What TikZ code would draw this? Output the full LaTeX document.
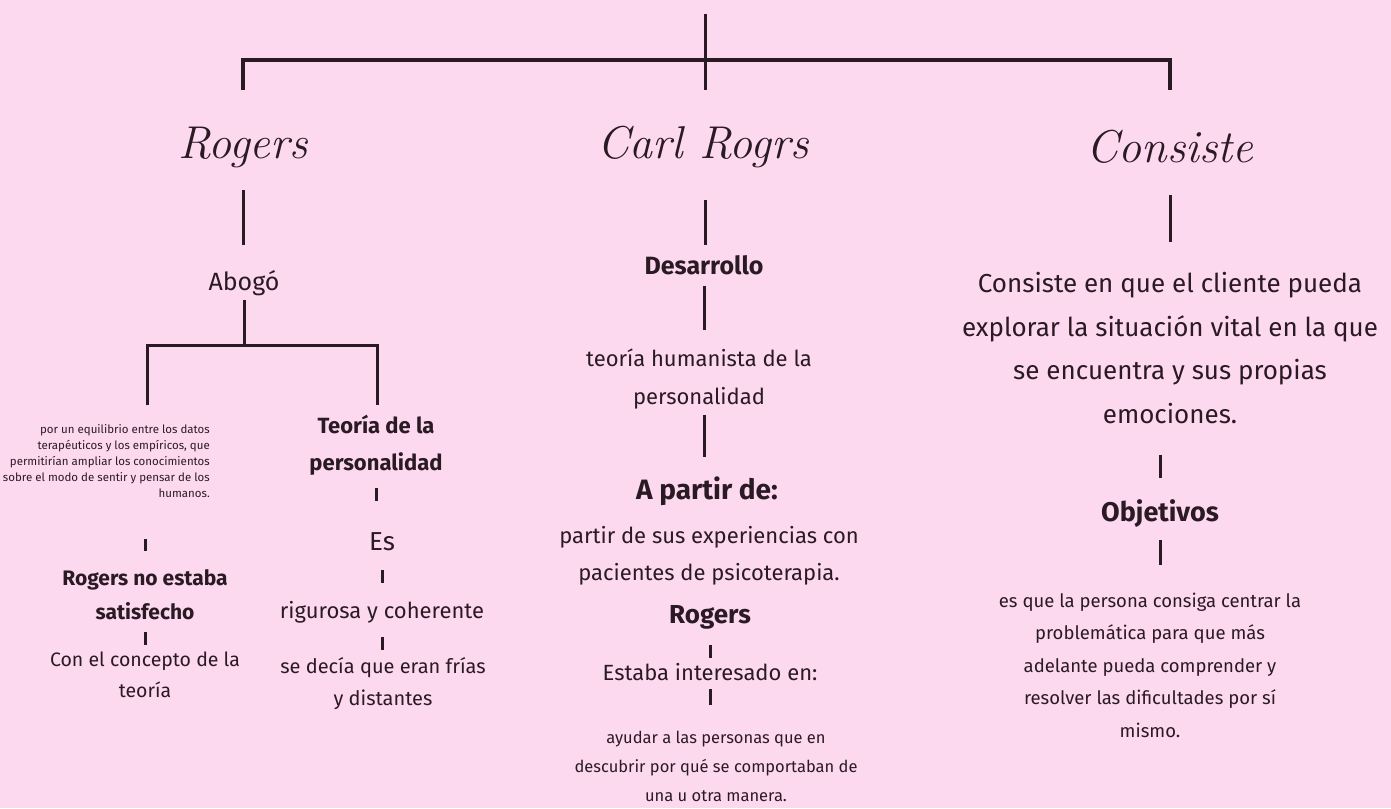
\documentclass[tikz,border=0pt]{standalone}
\usepackage{fontspec}
\setmainfont{Fira Sans}
\newfontfamily\headfont{Latin Modern Roman}
\definecolor{bgpink}{HTML}{FDD9F0}
\definecolor{ink}{HTML}{2A1A24}
\newcommand{\fsz}[2]{\fontsize{#1}{#2}\selectfont}
\tikzset{
  x=1pt, y=-1pt,
  lbl/.style={text=ink, inner sep=0pt, align=center},
  head/.style={lbl, font=\headfont\itshape\fsz{46}{50}},
  conn/.style={draw=ink, line width=3pt},
  tick/.style={draw=ink, line width=3pt},
}
\begin{document}
\begin{tikzpicture}
\fill[bgpink] (0,0) rectangle (1391,808);
\useasboundingbox (0,0) rectangle (1391,808);

% headings
\node[head] (h1) at (243,147) {Rogers};
\node[head] (h2) at (703,147) {Carl Rogrs};
\node[head] (h3) at (1170,147) {Consiste};
\coordinate (top) at (705,14);

% top bracket
\draw[conn, line width=3.5pt] (h1 |- 0,90) -- (h1 |- 0,60) -- (h3 |- 0,60) -- (h3 |- 0,90);
\draw[conn] (top) -- (top |- 0,90);

% ---------- left column ----------
\node[lbl, font=\fsz{25}{28}] (abogo) at (244,283) {Abogó};
\draw[conn] (h1 |- 0,190) -- (h1 |- 0,245);
\draw[conn] (abogo |- 0,300) -- (abogo |- 0,345);
\node[lbl, align=right, font=\fsz{11.5}{16.2}, anchor=north east] (equil) at (210,424)
  {por un equilibrio entre los datos\\terapéuticos y los empíricos, que\\permitirían ampliar los conocimientos\\sobre el modo de sentir y pensar de los\\humanos.};
\node[lbl, font=\bfseries\fsz{22}{37}] (teoria) at (376,445) {Teoría de la\\personalidad};
\coordinate (lsplit) at (147,345);
\coordinate (rsplit) at (377,345);
\draw[conn] (lsplit |- 0,405) -- (lsplit) -- (rsplit) -- (rsplit |- 0,405);

\node[lbl, font=\bfseries\fsz{21}{34}] (noest) at (145,595) {Rogers no estaba\\satisfecho};
\draw[tick] (noest |- 0,539) -- (noest |- 0,551);
\node[lbl, font=\fsz{19.5}{31}] (concepto) at (145,675) {Con el concepto de la\\teoría};
\draw[tick] (noest |- 0,632) -- (noest |- 0,645);

\node[lbl, font=\fsz{26}{28}] (es) at (382,542) {Es};
\draw[tick] (teoria |- 0,488) -- (teoria |- 0,501);
\node[lbl, font=\fsz{22}{26}] (rig) at (382,612) {rigurosa y coherente};
\draw[tick] (es |- 0,570) -- (es |- 0,583);
\node[lbl, font=\fsz{20}{32}] (fria) at (383,684) {se decía que eran frías\\y distantes};
\draw[tick] (rig |- 0,637) -- (rig |- 0,650);

% ---------- centre column ----------
\node[lbl, font=\bfseries\fsz{25}{28}] (des) at (704,265) {Desarrollo};
\draw[conn] (top |- 0,200) -- (top |- 0,245);
\node[lbl, font=\fsz{22}{38}] (hum) at (699,379) {teoría humanista de la\\personalidad};
\draw[conn] (des |- 0,286) -- (des |- 0,330);
\node[lbl, font=\bfseries\fsz{28}{30}] (apartir) at (707,491) {A partir de:};
\draw[conn] (des |- 0,415) -- (des |- 0,457);
\node[lbl, font=\fsz{22}{37}] (exp) at (709,556) {partir de sus experiencias con\\pacientes de psicoterapia.};
\node[lbl, font=\bfseries\fsz{26}{28}] (rog2) at (710,617) {Rogers};
\node[lbl, font=\fsz{22}{26}] (inter) at (710,672) {Estaba interesado en:};
\draw[tick] (rog2 |- 0,645) -- (rog2 |- 0,658);
\node[lbl, font=\fsz{16.5}{29}] (ayudar) at (716,766) {ayudar a las personas que en\\descubrir por qué se comportaban de\\una u otra manera.};
\draw[tick] (inter |- 0,689) -- (inter |- 0,705);

% ---------- right column ----------
\node[lbl, font=\fsz{26}{43.5}] (cons) at (1170,348) {Consiste en que el cliente pueda\\explorar la situación vital en la que\\se encuentra y sus propias\\emociones.};
\draw[conn] (h3 |- 0,195) -- (h3 |- 0,242);
\node[lbl, font=\bfseries\fsz{27}{30}] (obj) at (1160,514) {Objetivos};
\draw[conn] (obj |- 0,455) -- (obj |- 0,478);
\draw[conn] (obj |- 0,540) -- (obj |- 0,565);
\node[lbl, font=\fsz{18.5}{32.5}] (meta) at (1150,665) {es que la persona consiga centrar la\\problemática para que más\\adelante pueda comprender y\\resolver las dificultades por sí\\mismo.};
\end{tikzpicture}
\end{document}
